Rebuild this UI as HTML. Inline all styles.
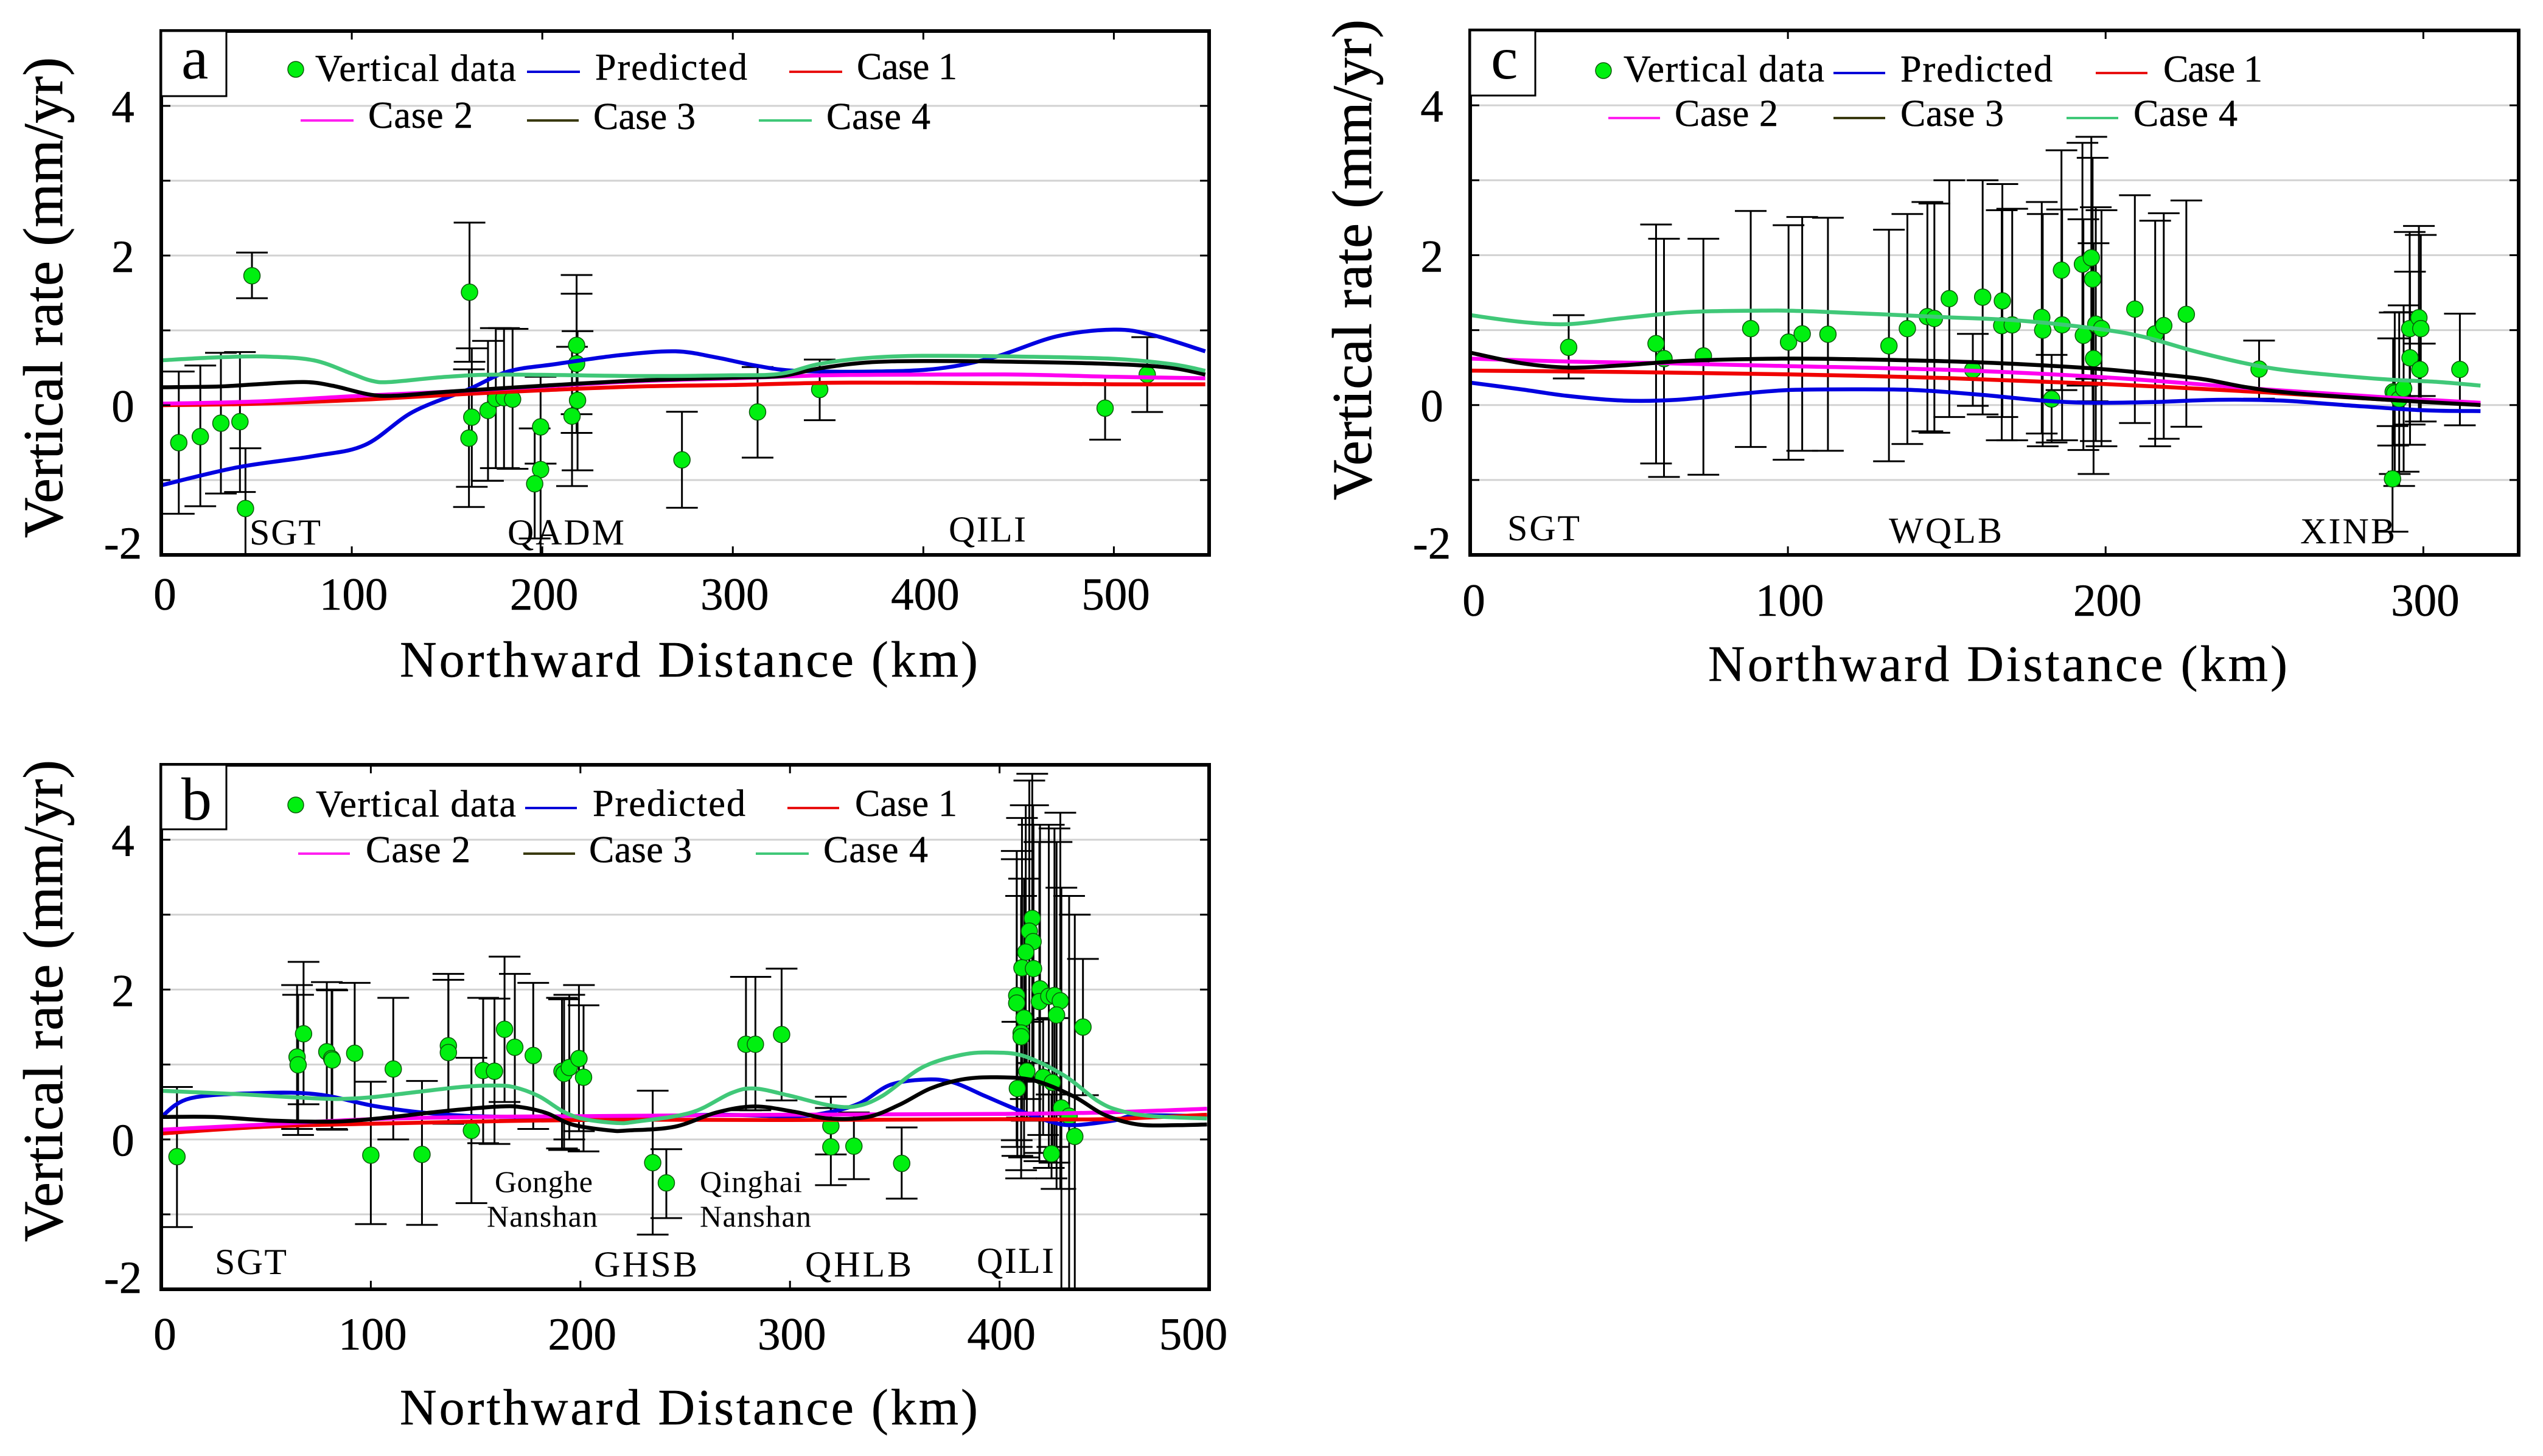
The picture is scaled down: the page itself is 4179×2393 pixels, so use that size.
<!DOCTYPE html>
<html lang="en">
<head>
<meta charset="utf-8">
<title>Vertical rate profiles</title>
<style>
html,body{margin:0;padding:0;background:#fff;}
svg{display:block;}
text{font-family:"Liberation Serif",serif;fill:#000;}
.leg{font-size:62px;stroke:#000;stroke-width:0.5px;}
.reg{font-size:60px;}
.reg2{font-size:50px;}
.xt{font-size:84px;stroke:#000;stroke-width:0.5px;}
.yt{font-size:92px;stroke:#000;stroke-width:0.8px;}
.pl{font-size:100px;}
.tk{font-size:75px;text-anchor:middle;stroke:#000;stroke-width:0.5px;}
</style>
</head>
<body>
<svg xmlns="http://www.w3.org/2000/svg" width="4179" height="2393" viewBox="0 0 4179 2393">
<defs>
<clipPath id="clip-a"><rect x="265" y="51" width="1722" height="861"/></clipPath>
<clipPath id="clip-b"><rect x="265" y="1257" width="1722" height="862"/></clipPath>
<clipPath id="clip-c"><rect x="2416" y="50" width="1723" height="862"/></clipPath>
</defs>

<g id="panel-a">
<g id="marks-a"></g>
<g>
<text class="reg" x="410" y="895" textLength="117">SGT</text>
<text class="reg" x="834" y="895" textLength="192">QADM</text>
<text class="reg" x="1559" y="890" textLength="127">QILI</text>
</g>
<rect x="265" y="51" width="107" height="107" fill="#fff" stroke="#000" stroke-width="3"/>
<text class="pl" x="298" y="129">a</text>
<g>
<circle cx="486" cy="114" r="13" fill="#00f010" stroke="#0a5a0a" stroke-width="1.5"/>
<text class="leg" x="518" y="133" textLength="330">Vertical data</text>
<line x1="866" x2="953" y1="118" y2="118" stroke="#0000d8" stroke-width="4"/>
<text class="leg" x="978" y="131" textLength="250">Predicted</text>
<line x1="1297" x2="1384" y1="118" y2="118" stroke="#e81010" stroke-width="4"/>
<text class="leg" x="1408" y="130" textLength="165">Case 1</text>
<line x1="494" x2="581" y1="198" y2="198" stroke="#ff20f0" stroke-width="4"/>
<text class="leg" x="605" y="210" textLength="172">Case 2</text>
<line x1="866" x2="951" y1="198" y2="198" stroke="#3a3a10" stroke-width="4"/>
<text class="leg" x="975" y="212" textLength="168">Case 3</text>
<line x1="1247" x2="1334" y1="198" y2="198" stroke="#40c878" stroke-width="4"/>
<text class="leg" x="1358" y="212" textLength="171">Case 4</text>
</g>
<text class="yt" transform="translate(102 489) rotate(-90)" text-anchor="middle" textLength="790">Vertical rate (mm/yr)</text>
<text class="xt" x="657" y="1112" textLength="950">Northward Distance (km)</text>
</g>

<g id="panel-b">
<g id="marks-b"></g>
<g>
<text class="reg" x="353" y="2094" textLength="118">SGT</text>
<text class="reg" x="976" y="2098" textLength="170">GHSB</text>
<text class="reg" x="1323" y="2098" textLength="175">QHLB</text>
<text class="reg" x="1605" y="2092" textLength="127">QILI</text>
<text class="reg2" x="813" y="1959" textLength="161">Gonghe</text>
<text class="reg2" x="800" y="2016" textLength="182">Nanshan</text>
<text class="reg2" x="1150" y="1959" textLength="168">Qinghai</text>
<text class="reg2" x="1150" y="2016" textLength="183">Nanshan</text>
</g>
<rect x="265" y="1257" width="107" height="106" fill="#fff" stroke="#000" stroke-width="3"/>
<text class="pl" x="298" y="1347">b</text>
<g>
<circle cx="486" cy="1323" r="13" fill="#00f010" stroke="#0a5a0a" stroke-width="1.5"/>
<text class="leg" x="519" y="1342" textLength="329">Vertical data</text>
<line x1="863" x2="948" y1="1328" y2="1328" stroke="#0000d8" stroke-width="4"/>
<text class="leg" x="974" y="1341" textLength="251">Predicted</text>
<line x1="1294" x2="1379" y1="1328" y2="1328" stroke="#e81010" stroke-width="4"/>
<text class="leg" x="1405" y="1341" textLength="168">Case 1</text>
<line x1="490" x2="575" y1="1403" y2="1403" stroke="#ff20f0" stroke-width="4"/>
<text class="leg" x="601" y="1417" textLength="172">Case 2</text>
<line x1="860" x2="945" y1="1403" y2="1403" stroke="#3a3a10" stroke-width="4"/>
<text class="leg" x="968" y="1417" textLength="169">Case 3</text>
<line x1="1242" x2="1329" y1="1403" y2="1403" stroke="#40c878" stroke-width="4"/>
<text class="leg" x="1353" y="1417" textLength="172">Case 4</text>
</g>
<text class="yt" transform="translate(102 1645) rotate(-90)" text-anchor="middle" textLength="792">Vertical rate (mm/yr)</text>
<text class="xt" x="657" y="2341" textLength="950">Northward Distance (km)</text>
</g>

<g id="panel-c">
<g id="marks-c"></g>
<g>
<text class="reg" x="2477" y="888" textLength="119">SGT</text>
<text class="reg" x="3104" y="892" textLength="186">WQLB</text>
<text class="reg" x="3780" y="893" textLength="156">XINB</text>
</g>
<rect x="2416" y="50" width="107" height="107" fill="#fff" stroke="#000" stroke-width="3"/>
<text class="pl" x="2450" y="129">c</text>
<g>
<circle cx="2635" cy="116" r="13" fill="#00f010" stroke="#0a5a0a" stroke-width="1.5"/>
<text class="leg" x="2668" y="134" textLength="330">Vertical data</text>
<line x1="3013" x2="3098" y1="120" y2="120" stroke="#0000d8" stroke-width="4"/>
<text class="leg" x="3123" y="134" textLength="250">Predicted</text>
<line x1="3444" x2="3529" y1="120" y2="120" stroke="#e81010" stroke-width="4"/>
<text class="leg" x="3555" y="134" textLength="163">Case 1</text>
<line x1="2643" x2="2728" y1="194" y2="194" stroke="#ff20f0" stroke-width="4"/>
<text class="leg" x="2752" y="207" textLength="170">Case 2</text>
<line x1="3013" x2="3098" y1="194" y2="194" stroke="#3a3a10" stroke-width="4"/>
<text class="leg" x="3123" y="207" textLength="170">Case 3</text>
<line x1="3396" x2="3481" y1="194" y2="194" stroke="#40c878" stroke-width="4"/>
<text class="leg" x="3506" y="207" textLength="171">Case 4</text>
</g>
<text class="yt" transform="translate(2253 427) rotate(-90)" text-anchor="middle" textLength="790">Vertical rate (mm/yr)</text>
<text class="xt" x="2807" y="1119" textLength="952">Northward Distance (km)</text>
</g>
</svg>

<script>
// Shared tick values
const yTickLabels = [-2, 0, 2, 4];
const yGridValues = [-1, 0, 1, 2, 3, 4];
const aXTicks = [0, 100, 200, 300, 400, 500];
const bXTicks = [0, 100, 200, 300, 400, 500];
const cXTicks = [0, 100, 200, 300];

// Panel a: observations
const aDistance = [9.2,20.5,31.3,41.3,44.2,47.6,161.8,163,161.5,171.5,175.6,179.9,184.4,199.1,199.1,196,215.6,218,218,218.5,273.3,313,345.6,495.4,517.5];
const aRate =     [-0.5,-0.42,-0.24,-0.22,-1.38,1.73,1.51,-0.16,-0.44,-0.07,0.09,0.1,0.08,-0.29,-0.86,-1.05,-0.146,0.8,0.555,0.065,-0.73,-0.09,0.21,-0.04,0.41];
const aUpper =    [0.45,0.53,0.7,0.71,-0.575,2.04,2.44,0.76,0.48,0.86,1.03,1.03,1.02,0.38,-0.78,-0.31,0.78,1.74,1.49,0.99,-0.087,0.51,0.61,0.38,0.91];
const aLower =    [-1.45,-1.35,-1.18,-1.16,-2.3,1.43,0.58,-1.09,-1.36,-1.01,-0.84,-0.84,-0.85,-0.78,-2.3,-1.78,-1.08,-0.12,-0.37,-0.87,-1.37,-0.7,-0.2,-0.46,-0.09];
// Panel a: model curves
const aPredictedKm = [0,40,80,107,132,161,182,207,241,270,291,312,333,374,408,437,470,500,520,548];
const aPredictedRate = [-1.07,-0.83,-0.68,-0.53,-0.09,0.21,0.45,0.55,0.67,0.72,0.64,0.53,0.46,0.45,0.49,0.64,0.92,1.01,0.94,0.72];
const aCase1Km = [0,50,110,160,200,250,300,350,400,450,500,548];
const aCase1Rate = [0,0.02,0.08,0.15,0.2,0.25,0.27,0.3,0.3,0.29,0.28,0.28];
const aCase2Km = [0,50,100,150,200,250,300,350,400,450,500,548];
const aCase2Rate = [0.02,0.05,0.12,0.18,0.25,0.32,0.36,0.4,0.41,0.41,0.38,0.36];
const aCase3Km = [0,30,50,75,90,110,125,150,200,250,300,325,345,370,400,450,500,530,548];
const aCase3Rate = [0.24,0.25,0.28,0.31,0.26,0.14,0.13,0.18,0.26,0.33,0.37,0.39,0.49,0.57,0.59,0.58,0.55,0.5,0.41];
const aCase4Km = [0,30,55,80,100,110,120,150,180,250,300,325,345,370,400,450,500,530,548];
const aCase4Rate = [0.6,0.64,0.65,0.6,0.42,0.33,0.31,0.38,0.41,0.39,0.4,0.42,0.55,0.63,0.66,0.65,0.62,0.55,0.46];

// Panel b: observations
const bDistance = [7.5,64.8,65.3,67.9,79,81.3,81.6,92.3,100,110.7,124.4,137,137,148,153.6,159,163.8,168.7,177.5,191.2,192.2,194.7,199.3,201.5,234.5,241,279,283.5,296,319.5,319.5,330.5,353.3,
  415.6,414.2,416,412.5,410.7,416.2,408.2,408.2,419.3,419,423.5,426.2,429,427.2,411.7,410.3,410.3,439.8,413,420.8,425.2,408.5,429.5,433.2,435.9,424.8];
const bRate = [-0.23,1.1,0.995,1.41,1.17,1.08,1.06,1.15,-0.21,0.94,-0.2,1.25,1.16,0.12,0.92,0.91,1.47,1.23,1.12,0.91,0.88,0.96,1.08,0.83,-0.31,-0.58,1.27,1.27,1.4,0.18,-0.1,-0.09,-0.32,
  2.95,2.78,2.64,2.5,2.29,2.28,1.92,1.82,2.01,1.84,1.91,1.92,1.85,1.66,1.62,1.42,1.37,1.5,0.91,0.83,0.76,0.68,0.42,0.31,0.04,-0.19];
const bUpper = [0.7,2.06,1.93,2.37,2.1,2,1.99,2.09,0.77,1.89,0.78,2.21,2.13,1.09,1.89,1.88,2.44,2.21,2.09,1.89,1.87,1.93,2.06,1.79,0.65,-0.13,2.17,2.17,2.28,0.57,0.42,0.36,0.16,
  4.88,4.79,4.46,4.46,4.29,4.2,3.85,3.74,4.2,3.97,4.2,4.15,4.36,3.97,3.48,3.25,3.25,2.41,1.57,1.6,1.62,1.57,3.36,3.25,3,0.6];
const bLower = [-1.17,0.14,0.06,0.47,0.22,0.14,0.13,0.22,-1.13,0,-1.14,0.21,0.21,-0.85,-0.05,-0.06,0.5,0.26,0.14,-0.12,-0.14,0,0.11,-0.16,-1.27,-1.05,0.39,0.39,0.52,-0.2,-0.61,-0.53,-0.79,
  1.02,0.77,0.82,0.54,0.29,0.36,-0.01,-0.1,-0.18,-0.29,-0.38,-0.31,-0.66,-0.66,-0.24,-0.41,-0.52,0.59,0.25,0.06,-0.1,-0.22,-2.5,-2.6,-2.9,-0.52];
// Panel b: model curves
const bPredictedKm = [0,14,48,75,101,124,150,189,227,265,302,318,333,348,365,378,393,409,424,435,454,466,499];
const bPredictedRate = [0.3,0.55,0.62,0.6,0.45,0.36,0.31,0.3,0.3,0.33,0.31,0.36,0.48,0.73,0.8,0.76,0.58,0.39,0.24,0.19,0.25,0.32,0.31];
const bCase1Km = [0,50,100,200,300,400,450,499];
const bCase1Rate = [0.08,0.17,0.21,0.26,0.26,0.27,0.27,0.33];
const bCase2Km = [0,50,100,150,200,300,400,450,499];
const bCase2Rate = [0.13,0.2,0.27,0.3,0.31,0.33,0.34,0.36,0.41];
const bCase3Km = [0,25,54,84,107,129,143,162,172,184,196,214,223,245,265,283,302,318,337,352,367,382,397,416,435,450,466,485,499];
const bCase3Rate = [0.3,0.3,0.25,0.24,0.29,0.36,0.4,0.44,0.43,0.35,0.2,0.12,0.12,0.17,0.36,0.44,0.37,0.28,0.3,0.46,0.68,0.8,0.83,0.79,0.58,0.33,0.2,0.19,0.2];
const bCase4Km = [0,40,65,84,99,121,143,158,168,180,192,202,217,226,253,272,283,299,318,331,344,363,382,397,412,431,447,458,473,499];
const bCase4Rate = [0.65,0.6,0.56,0.54,0.56,0.63,0.7,0.72,0.7,0.58,0.37,0.27,0.22,0.235,0.36,0.62,0.68,0.59,0.46,0.44,0.58,0.96,1.13,1.16,1.11,0.85,0.51,0.38,0.31,0.28];

// Panel c: observations
const cDistance = [31,58.5,61,73.4,88.3,100.2,104.5,112.6,131.8,137.6,143.9,146.1,150.8,161.3,158.2,167.5,167.3,170.6,179.9,180.2,186.1,186.3,183,192.7,193,195.5,195.9,196.9,198.7,196.2,209.2,215.6,218.3,225.4,248.3,
  290.3,290.5,291,292.4,293.8,295.7,298.6,299.2,295.8,298.9,311.5];
const cRate = [0.77,0.82,0.62,0.655,1.02,0.84,0.95,0.945,0.79,1.02,1.18,1.155,1.42,1.44,0.47,1.39,1.06,1.07,1.17,1,1.8,1.07,0.08,1.88,0.93,1.965,1.68,1.08,1.02,0.62,1.28,0.95,1.06,1.21,0.48,
  -0.985,0.175,0.16,0.08,0.22,1.02,1.165,1.02,0.63,0.475,0.475];
const cUpper = [1.2,2.41,2.22,2.22,2.59,2.4,2.51,2.5,2.34,2.55,2.71,2.69,3,3,0.95,2.95,2.6,2.62,2.71,2.55,3.4,2.61,0.67,3.5,2.48,3.58,3.3,2.64,2.6,2.16,2.8,2.46,2.56,2.73,0.86,
  -0.28,0.89,1.235,1.24,1.33,2.31,2.39,2.27,1.78,0.82,1.22];
const cLower = [0.355,-0.78,-0.96,-0.93,-0.56,-0.73,-0.61,-0.61,-0.75,-0.52,-0.35,-0.37,-0.16,-0.125,-0.01,-0.16,-0.47,-0.47,-0.38,-0.55,0.2,-0.47,-0.5,0.26,-0.6,0.35,0.05,-0.48,-0.55,-0.92,-0.24,-0.55,-0.45,-0.29,0.085,
  -1.69,-0.54,-0.92,-1.08,-0.89,-0.26,-0.06,-0.22,-0.53,0.12,-0.27];
// Panel c: model curves
const cPredictedKm = [0,16,31,48,65,85,100,120,140,160,180,195,215,235,255,275,300,318];
const cPredictedRate = [0.3,0.21,0.12,0.06,0.07,0.15,0.2,0.21,0.2,0.14,0.06,0.03,0.04,0.07,0.06,0,-0.07,-0.08];
const cCase1Km = [0,50,100,150,200,250,289,318];
const cCase1Rate = [0.46,0.44,0.41,0.36,0.28,0.17,0.07,0.01];
const cCase2Km = [0,31,60,100,150,200,250,289,318];
const cCase2Rate = [0.62,0.58,0.56,0.52,0.47,0.37,0.21,0.1,0.03];
const cCase3Km = [0,16,31,48,68,98,123,160,192,212,230,244,259,289,318];
const cCase3Rate = [0.7,0.56,0.5,0.53,0.59,0.62,0.61,0.57,0.5,0.43,0.35,0.24,0.16,0.07,0];
const cCase4Km = [0,16,31,48,68,90,108,148,172,197,212,227,242,254,269,289,304,318];
const cCase4Rate = [1.2,1.11,1.08,1.16,1.24,1.26,1.25,1.175,1.13,1.02,0.91,0.73,0.575,0.48,0.41,0.34,0.31,0.26];

const NS = 'http://www.w3.org/2000/svg';
function mk(tag, attrs, parent) {
  const n = document.createElementNS(NS, tag);
  for (const k in attrs) n.setAttribute(k, attrs[k]);
  parent.appendChild(n);
  return n;
}
function smoothPath(xs, ys) {
  let d = 'M' + xs[0].toFixed(1) + ' ' + ys[0].toFixed(1);
  for (let i = 0; i < xs.length - 1; i++) {
    const i0 = Math.max(0, i - 1), i3 = Math.min(xs.length - 1, i + 2);
    const c1x = xs[i] + (xs[i + 1] - xs[i0]) / 6, c1y = ys[i] + (ys[i + 1] - ys[i0]) / 6;
    const c2x = xs[i + 1] - (xs[i3] - xs[i]) / 6, c2y = ys[i + 1] - (ys[i3] - ys[i]) / 6;
    d += 'C' + c1x.toFixed(1) + ' ' + c1y.toFixed(1) + ' ' + c2x.toFixed(1) + ' ' + c2y.toFixed(1) + ' ' + xs[i + 1].toFixed(1) + ' ' + ys[i + 1].toFixed(1);
  }
  return d;
}

function drawPanel(id, box, xMax, xTicks, labelDrop, obs, curves) {
  const layer = document.getElementById('marks-' + id);
  const xOf = v => box.left + (v / xMax) * (box.right - box.left);
  const yOf = v => box.bottom - ((v + 2) / 7) * (box.bottom - box.top);
  const clip = 'url(#clip-' + id + ')';

  yGridValues.forEach(v => {
    const grid = mk('line', {x1: box.left, x2: box.right, y1: yOf(v), y2: yOf(v), stroke: '#d2d2d2', 'stroke-width': 3}, layer);
    
    
  });

  const bars = mk('g', {'clip-path': clip, stroke: '#000', 'stroke-width': 3, fill: 'none'}, layer);
  
  
  obs.x.forEach((d, i) => {
    const px = xOf(d), hi = yOf(obs.hi[i]), lo = yOf(obs.lo[i]);
    const bar = mk('path', {d: 'M' + px + ' ' + hi + 'V' + lo + 'M' + (px - 26) + ' ' + hi + 'H' + (px + 26) + 'M' + (px - 26) + ' ' + lo + 'H' + (px + 26)}, bars);
    
    
  });

  const points = mk('g', {'clip-path': clip}, layer);
  
  
  obs.x.forEach((d, i) => {
    const dot = mk('circle', {cx: xOf(d), cy: yOf(obs.y[i]), r: 13.5, fill: '#00f010', stroke: '#0a5a0a', 'stroke-width': 1.5}, points);
    
    
  });

  const lines = mk('g', {'clip-path': clip, fill: 'none', 'stroke-width': 6.5}, layer);
  
  
  curves.forEach(c => {
    const p = mk('path', {d: smoothPath(c.km.map(xOf), c.rate.map(yOf)), stroke: c.color}, lines);
    
    
  });

  yGridValues.forEach(v => {
    const t = mk('path', {d: 'M' + box.left + ' ' + yOf(v) + 'h15M' + box.right + ' ' + yOf(v) + 'h-15', stroke: '#000', 'stroke-width': 3}, layer);
    
    
  });
  xTicks.forEach(v => {
    const t = mk('path', {d: 'M' + xOf(v) + ' ' + box.top + 'v14M' + xOf(v) + ' ' + box.bottom + 'v-14', stroke: '#000', 'stroke-width': 3}, layer);
    
    
    const cx = Math.min(v === 0 ? xOf(v) + 6 : xOf(v) + 3, box.right - 26);
    const lab = mk('text', {class: 'tk', x: cx, y: box.bottom + labelDrop}, layer);
    lab.textContent = String(v);
    
    
  });
  yTickLabels.forEach(v => {
    const lab = mk('text', {class: 'tk', x: box.left - 63, y: Math.min(yOf(v) + 27, box.bottom + 6)}, layer);
    lab.textContent = String(v);
    
    
  });

  const frame = mk('rect', {x: box.left, y: box.top, width: box.right - box.left, height: box.bottom - box.top, fill: 'none', stroke: '#000', 'stroke-width': 6}, layer);
  
  
}

drawPanel('a', {left: 265, right: 1987, top: 51, bottom: 912}, 550, aXTicks, 90,
  {x: aDistance, y: aRate, hi: aUpper, lo: aLower},
  [{km: aPredictedKm, rate: aPredictedRate, color: '#0000e0', name: 'predicted-line'},
   {km: aCase1Km, rate: aCase1Rate, color: '#f00000', name: 'case-1-line'},
   {km: aCase2Km, rate: aCase2Rate, color: '#ff00f0', name: 'case-2-line'},
   {km: aCase3Km, rate: aCase3Rate, color: '#000000', name: 'case-3-line'},
   {km: aCase4Km, rate: aCase4Rate, color: '#40c878', name: 'case-4-line'}]);

drawPanel('b', {left: 265, right: 1987, top: 1257, bottom: 2119}, 500, bXTicks, 99,
  {x: bDistance, y: bRate, hi: bUpper, lo: bLower},
  [{km: bPredictedKm, rate: bPredictedRate, color: '#0000e0', name: 'predicted-line'},
   {km: bCase1Km, rate: bCase1Rate, color: '#f00000', name: 'case-1-line'},
   {km: bCase2Km, rate: bCase2Rate, color: '#ff00f0', name: 'case-2-line'},
   {km: bCase3Km, rate: bCase3Rate, color: '#000000', name: 'case-3-line'},
   {km: bCase4Km, rate: bCase4Rate, color: '#40c878', name: 'case-4-line'}]);

drawPanel('c', {left: 2416, right: 4139, top: 50, bottom: 912}, 330, cXTicks, 100,
  {x: cDistance, y: cRate, hi: cUpper, lo: cLower},
  [{km: cPredictedKm, rate: cPredictedRate, color: '#0000e0', name: 'predicted-line'},
   {km: cCase1Km, rate: cCase1Rate, color: '#f00000', name: 'case-1-line'},
   {km: cCase2Km, rate: cCase2Rate, color: '#ff00f0', name: 'case-2-line'},
   {km: cCase3Km, rate: cCase3Rate, color: '#000000', name: 'case-3-line'},
   {km: cCase4Km, rate: cCase4Rate, color: '#40c878', name: 'case-4-line'}]);
</script>
</body>
</html>
